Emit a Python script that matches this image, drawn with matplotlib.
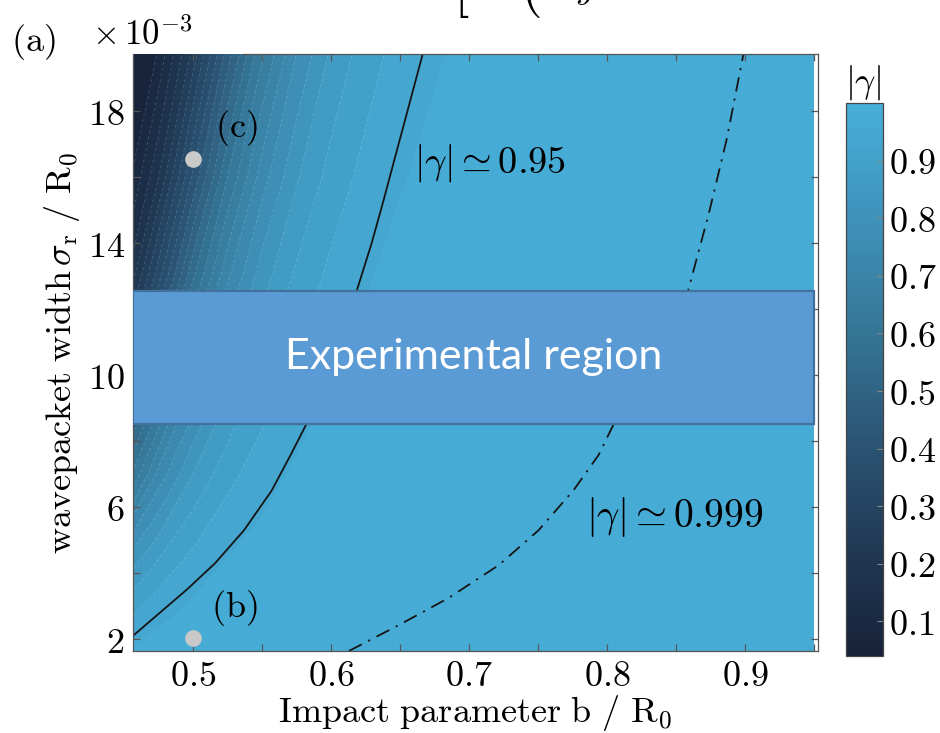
import matplotlib
matplotlib.use("Agg")
import matplotlib.pyplot as plt
import numpy as np
from matplotlib.colors import LinearSegmentedColormap, Normalize
from matplotlib.cm import ScalarMappable
from matplotlib.patches import Rectangle

plt.rcParams.update({
    "mathtext.fontset": "cm",
    "font.family": "serif",
    "axes.linewidth": 0.9,
})

# |gamma| on a coarse grid (sigma in units of 1e-3 R0)
B_GRID = [0.45, 0.475, 0.50, 0.525, 0.55, 0.575, 0.60, 0.625, 0.65, 0.70, 0.75, 0.85, 0.95]
SIGMA_GRID = [1.5, 4, 7, 10, 13, 16, 20]
GAMMA = [
    [0.974, 0.986, 0.992, 0.996, 0.997, 0.998, 0.999, 0.999, 1.000, 1.000, 1.000, 1.000, 1.000],
    [0.828, 0.904, 0.946, 0.969, 0.981, 0.989, 0.993, 0.996, 0.997, 0.999, 0.999, 1.000, 1.000],
    [0.562, 0.734, 0.842, 0.907, 0.944, 0.966, 0.979, 0.987, 0.992, 0.996, 0.998, 1.000, 1.000],
    [0.308, 0.532, 0.705, 0.819, 0.890, 0.932, 0.958, 0.973, 0.983, 0.993, 0.997, 0.999, 1.000],
    [0.137, 0.344, 0.553, 0.713, 0.821, 0.888, 0.930, 0.956, 0.971, 0.988, 0.994, 0.999, 1.000],
    [0.049, 0.198, 0.408, 0.600, 0.741, 0.835, 0.896, 0.933, 0.957, 0.981, 0.992, 0.998, 0.999],
    [0.009, 0.080, 0.246, 0.450, 0.626, 0.755, 0.842, 0.898, 0.934, 0.971, 0.987, 0.997, 0.999],
]

# iso-lines
G95_B = [0.4565, 0.476, 0.4955, 0.516, 0.537, 0.557, 0.571, 0.582,
         0.619, 0.6295, 0.6375, 0.6458, 0.6548, 0.6665]
G95_S = [2.1, 2.8, 3.5, 4.3, 5.3, 6.5, 7.6, 8.5,
         12.6, 14.0, 15.2, 16.5, 17.9, 19.73]
G999_B = [0.613, 0.649, 0.685, 0.7216, 0.7505, 0.776, 0.794, 0.805,
          0.859, 0.8736, 0.8867, 0.899]
G999_S = [1.64, 2.42, 3.24, 4.24, 5.30, 6.52, 7.58, 8.52,
          12.58, 14.85, 17.12, 19.73]

# marked wavepackets
POINT_B = [0.5, 0.5]
POINT_S = [16.55, 2.03]
POINT_LABELS = ["(c)", "(b)"]

cmap = LinearSegmentedColormap.from_list(
    "gamma", ["#172239", "#213a55", "#2c5676", "#367899", "#3f93bb", "#47afd8"])
vmin, vmax = 0.04, 1.0

fig = plt.figure(figsize=(9.4, 7.33), dpi=100)
ax = fig.add_axes([0.1415, 0.1119, 0.7287, 0.8145])
cax = fig.add_axes([0.9, 0.105, 0.0394, 0.7544])

gamma = np.clip(np.array(GAMMA), vmin, vmax)
levels = np.linspace(vmin, vmax, 25)
ax.contourf(B_GRID, SIGMA_GRID, gamma, levels=levels, cmap=cmap, vmin=vmin, vmax=vmax)
ax.contour(B_GRID, SIGMA_GRID, gamma, levels=levels[:-2], colors="white",
           linewidths=0.6, alpha=0.18, linestyles=[(0, (3, 4))])

ax.plot(G95_B, G95_S, color="#151515", lw=1.3)
ax.plot(G999_B, G999_S, color="#151515", lw=1.3, linestyle=(0, (8, 4, 1.2, 4)))

ax.plot(POINT_B, POINT_S, "o", ms=12, color="#c9c9c9", mec="none", zorder=4)
ax.text(0.531, 17.48, rf"$\mathrm{{{POINT_LABELS[0]}}}$", fontsize=26, ha="center", va="center")
ax.text(0.530, 2.94, rf"$\mathrm{{{POINT_LABELS[1]}}}$", fontsize=26, ha="center", va="center")

ax.text(0.7155, 16.42, r"$|\gamma| \simeq 0.95$", fontsize=27.5, ha="center", va="center")
ax.text(0.849, 5.70, r"$|\gamma| \simeq \mathsf{0.999}$", fontsize=28.5, ha="center", va="center")

ax.set_xlim(0.4565, 0.953)
ax.set_ylim(1.64, 19.73)

xt = np.round(np.arange(0.5, 0.951, 0.05), 2)
ax.set_xticks(xt)
ax.set_xticklabels([f"${v:.1f}$" if round(v * 100) % 10 == 0 else "" for v in xt])
yt = np.arange(2, 20, 2)
ax.set_yticks(yt)
ax.set_yticklabels([f"${v}$" if v % 4 == 2 else "" for v in yt])
ax.tick_params(direction="in", length=5, width=0.9, color="#555555",
               top=True, right=True, labelsize=26, pad=6)
for s in ax.spines.values():
    s.set_color("#555555")
ax.spines["top"].set_bounds(0.5355, 0.953)

ax.set_xlabel(r"$\mathrm{Impact\ parameter\ b\ /\ R_0}$", fontsize=26, labelpad=0)
ax.set_ylabel(r"$\mathrm{wavepacket\ width}\,\sigma_{\mathrm{r}}\ /\ \mathrm{R_0}$",
              fontsize=26, labelpad=4)

# experimental region overlay
ax.add_patch(Rectangle((0.0, 0.380), 0.994, 0.2235, transform=ax.transAxes,
                       facecolor="#5b9bd5", edgecolor="#41719c", lw=1.6, zorder=6))
ax.text(0.498, 0.4925, "Experimental region", transform=ax.transAxes, color="white",
        fontsize=31, family="Lato", ha="center", va="center", zorder=7)

# colorbar
cb = fig.colorbar(ScalarMappable(norm=Normalize(vmin, vmax), cmap=cmap), cax=cax)
cb.set_ticks(np.arange(0.1, 0.95, 0.1))
cb.set_ticklabels([f"${v:.1f}$" for v in np.arange(0.1, 0.95, 0.1)])
cax.tick_params(direction="in", length=4, color="#888888", labelsize=26, pad=4)
cb.outline.set_edgecolor("#444444")
fig.text(863 / 940, 1 - 82 / 733, r"$|\gamma|$", fontsize=26, ha="center", va="center")

fig.text(33 / 940, 1 - 42 / 733, r"$\mathrm{(a)}$", fontsize=26, ha="center", va="center")
fig.text(142 / 940, 1 - 35 / 733, r"$\times\,10^{-3}$", fontsize=25, ha="center", va="center")

# equation cut off at the top of the screenshot
fig.text(461 / 940, 1 - 20 / 733, r"$[$", fontsize=40, ha="center", va="bottom")
fig.text(530 / 940, 1 - 20 / 733, r"$($", fontsize=40, ha="center", va="bottom")
fig.text(585 / 940, 1 - 7 / 733, r"$y$", fontsize=26, ha="center", va="bottom")

fig.savefig("out.png", dpi=100)
